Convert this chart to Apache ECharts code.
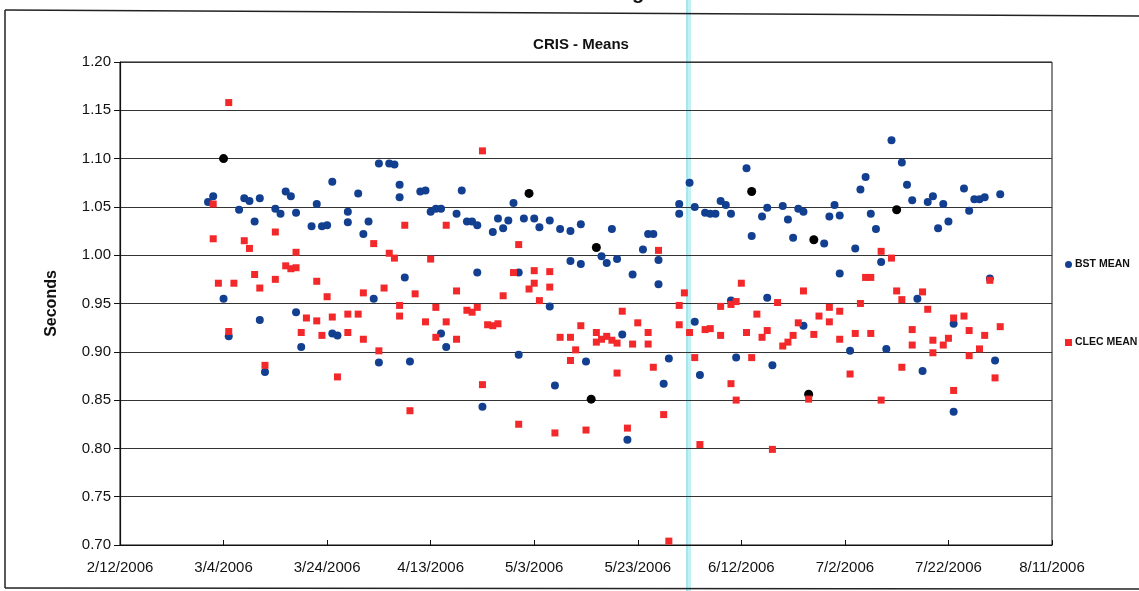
<!DOCTYPE html>
<html>
<head>
<meta charset="utf-8">
<script src="https://cdn.jsdelivr.net/npm/echarts@6/dist/echarts.min.js"></script>
<style>html,body{margin:0;padding:0;background:#fff;}#c{width:1139px;height:591px;}</style>
</head>
<body>
<div id="c"></div>
<script>
// ---- data (month/day in 2006) ----
const bstDates = ['3/1','3/2','3/4','3/5','3/7','3/8','3/9','3/10','3/11','3/11','3/12','3/14','3/15','3/16','3/17','3/18','3/18','3/19','3/21','3/22','3/23','3/24','3/25','3/25','3/26','3/28','3/28','3/30','3/31','4/1','4/2','4/3','4/3','4/5','4/6','4/7','4/7','4/8','4/9','4/11','4/12','4/13','4/14','4/15','4/15','4/16','4/18','4/19','4/20','4/21','4/22','4/22','4/23','4/25','4/26','4/27','4/28','4/29','4/30','4/30','5/1','5/3','5/4','5/6','5/6','5/7','5/8','5/10','5/10','5/12','5/12','5/13','5/16','5/17','5/18','5/19','5/20','5/21','5/22','5/24','5/25','5/26','5/27','5/27','5/28','5/29','5/31','5/31','6/2','6/3','6/3','6/4','6/5','6/6','6/7','6/8','6/9','6/10','6/10','6/11','6/13','6/14','6/16','6/17','6/17','6/18','6/20','6/21','6/22','6/23','6/24','6/24','6/28','6/29','6/30','7/1','7/1','7/3','7/4','7/5','7/6','7/7','7/8','7/9','7/10','7/11','7/13','7/14','7/15','7/16','7/17','7/18','7/19','7/20','7/21','7/22','7/23','7/23','7/25','7/26','7/27','7/28','7/29','7/30','7/31','8/1'];
const bstValues = [1.055,1.061,0.955,0.916,1.047,1.059,1.056,1.035,1.059,0.933,0.879,1.048,1.043,1.066,1.061,1.044,0.941,0.905,1.030,1.053,1.030,1.031,1.076,0.919,0.917,1.045,1.034,1.064,1.022,1.035,0.955,0.889,1.095,1.095,1.094,1.073,1.060,0.977,0.890,1.066,1.067,1.045,1.048,1.048,0.919,0.905,1.043,1.067,1.035,1.035,1.031,0.982,0.843,1.024,1.038,1.028,1.036,1.054,0.982,0.897,1.038,1.038,1.029,1.036,0.947,0.865,1.027,1.025,0.994,1.032,0.991,0.890,0.999,0.992,1.027,0.996,0.918,0.809,0.980,1.006,1.022,1.022,0.995,0.970,0.867,0.893,1.043,1.053,1.075,1.050,0.931,0.876,1.044,1.043,1.043,1.056,1.052,1.043,0.953,0.894,1.090,1.020,1.040,1.049,0.956,0.886,1.051,1.037,1.018,1.048,1.045,0.927,1.012,1.040,1.052,1.041,0.981,0.901,1.007,1.068,1.081,1.043,1.027,0.993,0.903,1.119,1.096,1.073,1.057,0.955,0.880,1.055,1.061,1.028,1.053,1.035,0.929,0.838,1.069,1.046,1.058,1.058,1.060,0.976,0.891,1.063];

// BST points printed in black in the reference
const bstDarkDates = ['3/4','5/2','5/14','5/15','6/14','6/25','6/26','7/12'];
const bstDarkValues = [1.100,1.064,0.851,1.008,1.066,0.856,1.016,1.047];

const clecDates = ['3/2','3/2','3/3','3/5','3/5','3/6','3/8','3/9','3/10','3/11','3/12','3/14','3/14','3/16','3/17','3/18','3/18','3/19','3/20','3/22','3/22','3/23','3/24','3/25','3/26','3/28','3/28','3/30','3/31','3/31','4/2','4/3','4/4','4/5','4/6','4/7','4/7','4/8','4/9','4/10','4/12','4/13','4/14','4/14','4/16','4/16','4/18','4/18','4/20','4/21','4/22','4/23','4/23','4/24','4/25','4/26','4/27','4/29','4/30','4/30','5/2','5/3','5/3','5/4','5/6','5/6','5/7','5/8','5/10','5/10','5/11','5/12','5/13','5/15','5/15','5/16','5/17','5/18','5/19','5/19','5/20','5/21','5/22','5/23','5/25','5/25','5/26','5/27','5/28','5/29','5/31','5/31','6/1','6/2','6/3','6/4','6/5','6/6','6/8','6/8','6/10','6/10','6/11','6/11','6/12','6/13','6/14','6/15','6/16','6/17','6/18','6/19','6/20','6/21','6/22','6/23','6/24','6/25','6/26','6/27','6/29','6/29','7/1','7/1','7/3','7/4','7/5','7/6','7/7','7/7','7/9','7/9','7/11','7/12','7/13','7/13','7/15','7/15','7/17','7/18','7/19','7/19','7/21','7/22','7/23','7/23','7/25','7/26','7/26','7/28','7/29','7/30','7/31','8/1'];
const clecValues = [1.017,1.053,0.971,1.158,0.921,0.971,1.015,1.007,0.980,0.966,0.886,1.024,0.975,0.989,0.986,1.003,0.987,0.920,0.935,0.973,0.932,0.917,0.957,0.936,0.874,0.920,0.939,0.939,0.961,0.913,1.012,0.901,0.966,1.002,0.997,0.948,0.937,1.031,0.839,0.960,0.931,0.996,0.946,0.915,1.031,0.931,0.913,0.963,0.943,0.941,0.946,1.108,0.866,0.928,0.927,0.929,0.958,0.982,1.011,0.825,0.965,0.971,0.984,0.953,0.983,0.967,0.816,0.915,0.915,0.891,0.902,0.927,0.819,0.910,0.920,0.913,0.916,0.912,0.909,0.878,0.942,0.821,0.908,0.930,0.908,0.920,0.884,1.005,0.835,0.704,0.928,0.948,0.961,0.920,0.894,0.804,0.923,0.924,0.947,0.917,0.949,0.867,0.952,0.850,0.971,0.920,0.894,0.939,0.915,0.922,0.799,0.951,0.906,0.910,0.917,0.930,0.963,0.851,0.918,0.937,0.946,0.931,0.942,0.913,0.877,0.919,0.950,0.977,0.977,0.919,1.004,0.850,0.997,0.963,0.954,0.884,0.923,0.907,0.962,0.944,0.912,0.899,0.907,0.914,0.935,0.860,0.937,0.922,0.896,0.903,0.917,0.974,0.873,0.926];

const yTicks = [0.70,0.75,0.80,0.85,0.90,0.95,1.00,1.05,1.10,1.15,1.20];
const xStart = '2/12'; const xEnd = '8/11'; const xStepDays = 20;

// ---- helpers ----
const DAY = 86400000;
const base = Date.UTC(2006, 1, 12);
function dayOf(md){ const p = md.split('/'); return (Date.UTC(2006, +p[0]-1, +p[1]) - base) / DAY; }
function pairs(ds, vs){ return ds.map((d,i)=>[dayOf(d), vs[i]]); }
function fmtDay(v){ const d = new Date(base + Math.round(v)*DAY); return (d.getUTCMonth()+1)+'/'+d.getUTCDate()+'/'+d.getUTCFullYear(); }

const FONT = 'Liberation Sans, Arial, sans-serif';
const chart = echarts.init(document.getElementById('c'));
chart.setOption({
  backgroundColor: '#ffffff',
  animation: false,
  title: { text: 'CRIS - Means', left: 576, top: 32, textAlign: 'center',
    textStyle: { fontFamily: FONT, fontSize: 15, fontWeight: 'bold', color: '#111' } },
  legend: {
    orient: 'vertical', left: 1060, top: 254, itemGap: 67, itemWidth: 7, itemHeight: 7,
    data: [{name:'BST MEAN', icon:'circle'}, {name:'CLEC MEAN', icon:'rect'}],
    textStyle: { fontFamily: FONT, fontSize: 10.5, fontWeight: 'bold', color: '#111', padding: [0,0,0,-2] }
  },
  grid: { left: 120, right: 87, top: 62, bottom: 46, show: true, borderColor: '#111', borderWidth: 1 },
  xAxis: {
    type: 'value', min: dayOf(xStart), max: dayOf(xEnd), interval: xStepDays,
    axisLine: { lineStyle: { color: '#111', width: 1.2 } },
    axisTick: { inside: true, length: 5, lineStyle: { color: '#111' } },
    splitLine: { show: false },
    axisLabel: { formatter: fmtDay, fontFamily: FONT, fontSize: 15, color: '#111', margin: 15 }
  },
  yAxis: {
    type: 'value', min: yTicks[0], max: yTicks[yTicks.length-1], interval: 0.05,
    name: 'Seconds', nameLocation: 'middle', nameGap: 60, nameRotate: 90,
    nameTextStyle: { fontFamily: FONT, fontSize: 16, fontWeight: 'bold', color: '#111' },
    axisLine: { show: true, lineStyle: { color: '#111', width: 1.2 } },
    axisTick: { show: true, length: 6, lineStyle: { color: '#111' } },
    splitLine: { show: true, lineStyle: { color: '#333', width: 1.2 } },
    axisLabel: { formatter: v => v.toFixed(2), fontFamily: FONT, fontSize: 15, color: '#111', margin: 9 }
  },
  series: [
    { name: 'BST MEAN', type: 'scatter', symbol: 'circle', symbolSize: 8, z: 2,
      itemStyle: { color: '#123f8f', opacity: 1 }, data: pairs(bstDates, bstValues) },
    { name: 'BST MEAN (marked)', type: 'scatter', symbol: 'circle', symbolSize: 9, z: 3,
      itemStyle: { color: '#000000', opacity: 1 }, data: pairs(bstDarkDates, bstDarkValues) },
    { name: 'CLEC MEAN', type: 'scatter', symbol: 'rect', symbolSize: 7, z: 4,
      itemStyle: { color: '#f2282a', opacity: 1 }, data: pairs(clecDates, clecValues) }
  ],
  graphic: [
    { type: 'rect', z: -10, silent: true, shape: { x: 686, y: 0, width: 5, height: 591 },
      style: { fill: 'rgba(170,236,242,0.75)' } },
    { type: 'line', z: -9, silent: true, shape: { x1: 687, y1: 0, x2: 687, y2: 591 },
      style: { stroke: '#8fdbe3', lineWidth: 1 } },
    { type: 'polyline', silent: true, shape: { points: [[5,10],[1139,16]] },
      style: { stroke: '#222', lineWidth: 1.5, fill: null } },
    { type: 'line', silent: true, shape: { x1: 5, y1: 10, x2: 5, y2: 588 },
      style: { stroke: '#222', lineWidth: 1.5 } },
    { type: 'line', silent: true, shape: { x1: 5, y1: 588, x2: 1139, y2: 589 },
      style: { stroke: '#222', lineWidth: 1.5 } },
    { type: 'text', silent: true, left: 632, top: -17,
      style: { text: 'g', font: 'bold 20px Liberation Sans, Arial, sans-serif', fill: '#111' } }
  ]
});
</script>
</body>
</html>
